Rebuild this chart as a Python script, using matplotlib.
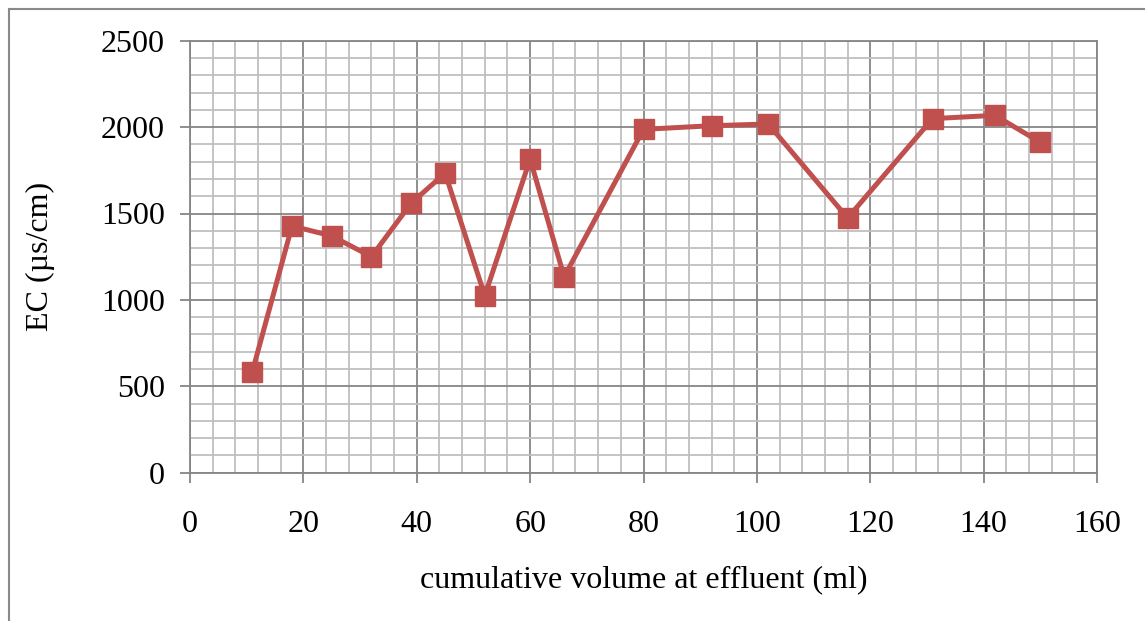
import matplotlib
matplotlib.use("Agg")
import matplotlib.pyplot as plt
from matplotlib.lines import Line2D
from matplotlib.ticker import MultipleLocator

volume = [11, 18, 25, 32, 39, 45, 52, 60, 66, 80, 92, 102, 116, 131, 142, 150]
ec = [585, 1428, 1370, 1250, 1559, 1734, 1024, 1815, 1134, 1987, 2008, 2018, 1474, 2049, 2068, 1912]

plt.rcParams['font.family'] = ['Liberation Serif', 'DejaVu Serif']

fig = plt.figure(figsize=(11.45, 6.21), dpi=100)
ax = fig.add_axes([190/1145, 1-472.7/621, (1097-190)/1145, (472.7-40.7)/621])

ax.set_xlim(0, 160)
ax.set_ylim(0, 2500)
ax.xaxis.set_major_locator(MultipleLocator(20))
ax.xaxis.set_minor_locator(MultipleLocator(4))
ax.yaxis.set_major_locator(MultipleLocator(500))
ax.yaxis.set_minor_locator(MultipleLocator(100))

ax.grid(which='minor', color='#BFBFBF', linewidth=1.3)
ax.grid(which='major', color='#868686', linewidth=1.3)
ax.set_axisbelow(True)

for s in ax.spines.values():
    s.set_color('#868686')
    s.set_linewidth(1.3)

ax.tick_params(which='major', length=7, width=1.3, color='#868686', labelsize=23)
ax.tick_params(axis='y', which='major', pad=11)
ax.tick_params(axis='x', which='major', pad=20)
ax.tick_params(which='minor', length=0)

ax.plot(volume, ec, color='#C0504D', linewidth=3.6, marker='s', markersize=14,
        markerfacecolor='#C0504D', markeredgecolor='#C0504D', zorder=3, clip_on=False)

ax.set_xlabel('cumulative volume at effluent (ml)', fontsize=23, labelpad=19)
ax.set_ylabel('EC (µs/cm)', fontsize=23, labelpad=33)

# outer chart border (top and left visible)
fig.add_artist(Line2D([9/1145, 1], [1-9/621, 1-9/621], color='#898989', linewidth=1.5, transform=fig.transFigure))
fig.add_artist(Line2D([9/1145, 9/1145], [0, 1-9/621], color='#898989', linewidth=1.5, transform=fig.transFigure))

fig.savefig('out.png', dpi=100)
